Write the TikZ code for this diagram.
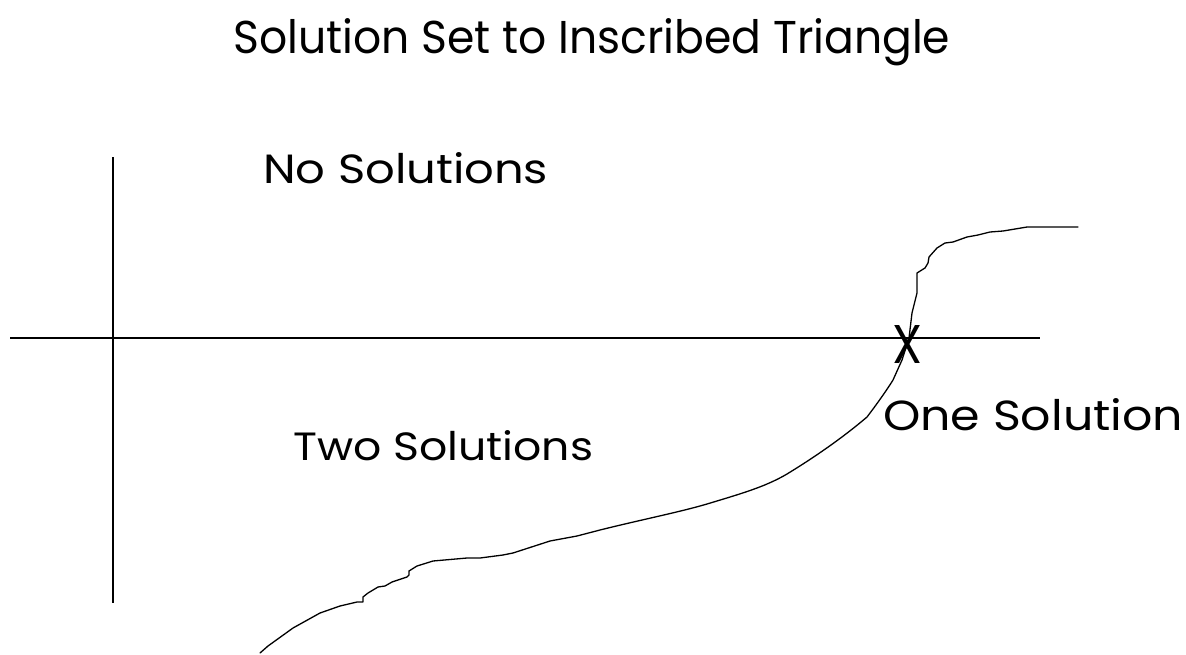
\documentclass[tikz,border=0pt]{standalone}
\usepackage{fontspec}
\setmainfont{Poppins}
\usepackage{graphicx}
\begin{document}
\begin{tikzpicture}[x=1pt,y=-1pt,
  axis/.style={line width=1.4pt},
  curve/.style={line width=1.3pt,line join=round,line cap=round},
  lbl/.style={inner sep=0pt,anchor=base west}]
\useasboundingbox (0,0) rectangle (1186,654);
% axes
\coordinate (vtop) at (113,157);
\coordinate (vbot) at (113,603);
\coordinate (hl) at (10,338);
\coordinate (hr) at (1040,338);
\draw[axis] (vtop) -- (vbot);
\draw[axis] (hl) -- (hr);
% curve
\draw[curve] (260,653) -- (268,646) -- (293,628) -- (320,613) -- (340,606) -- (357,602) -- (363,602) -- (363,597) -- (368,593) -- (378,587) -- (385,586) -- (392,582) -- (407,577) -- (409,575) -- (409,571) -- (417,566) -- (433,561) -- (467,558) -- (480,558) -- (503,555) -- (513,553) -- (550,541) -- (577,536) -- (600,530)
  .. controls (640,520) and (680,512) .. (707,504)
  .. controls (740,494) and (765,487) .. (787,474)
  .. controls (810,460) and (840,440) .. (867,417)
  .. controls (880,400) and (890,385) .. (893,380)
  -- (902,360) -- (909,338) -- (912,313) -- (917,293) -- (917,273) -- (925,268) -- (928,263) -- (929,257) -- (937,248) -- (945,243) -- (953,242) -- (967,237) -- (978,235) -- (990,232) -- (1003,231) -- (1027,227) -- (1078,227);
% labels
\node[lbl] (title) at (233,53) {\resizebox{717pt}{35pt}{Solution Set to Inscribed Triangle}};
\node[lbl] (none) at (263,183) {\resizebox{285pt}{31pt}{No Solutions}};
\node[lbl] (two) at (293,460) {\resizebox{300pt}{30pt}{Two Solutions}};
\node[lbl] (one) at (883,430) {\resizebox{300pt}{32pt}{One Solution}};
\node[lbl] (x) at (892,363) {\resizebox{30pt}{38pt}{X}};
\end{tikzpicture}
\end{document}
